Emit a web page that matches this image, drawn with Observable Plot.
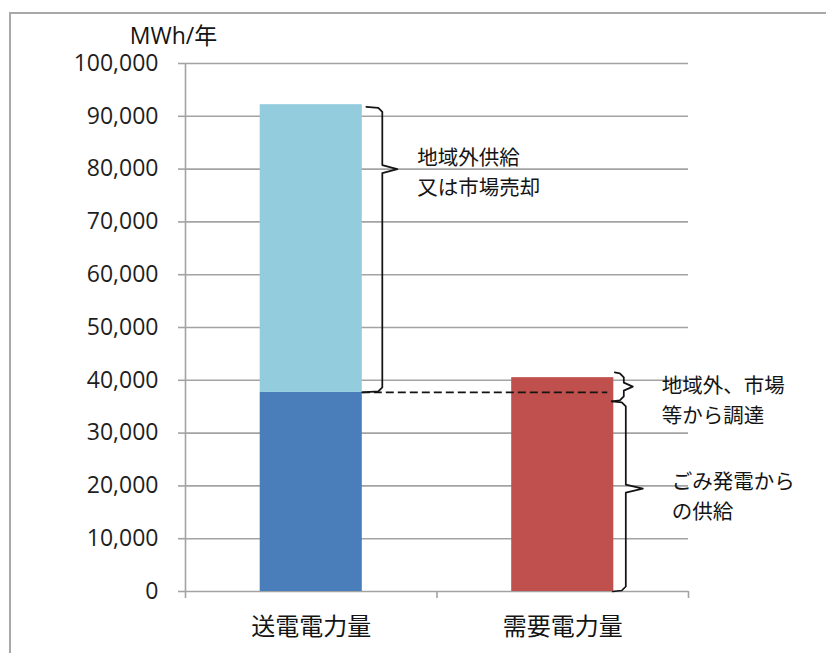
<!DOCTYPE html>
<html><head><meta charset="utf-8">
<script src="https://cdn.jsdelivr.net/npm/d3@7"></script>
<script src="https://cdn.jsdelivr.net/npm/@observablehq/plot@0.6"></script>
<style>
html,body{margin:0;padding:0;background:#fff;overflow:hidden;}
#wrap{position:relative;width:826px;height:653px;}
#border{position:absolute;left:9px;top:12px;width:900px;height:700px;border-top:2px solid #a8a8a8;border-left:2px solid #a8a8a8;}
#chart{position:absolute;left:0;top:0;}
g[aria-label="annot"] text{letter-spacing:1.6px;}
g[aria-label="xlabel"] text{letter-spacing:1.5px;}
g[aria-label="ylabel"] text{letter-spacing:1.5px;}
</style></head><body>
<div id="wrap"><div id="border"></div><div id="chart"></div></div>
<script>
// ---- data ----
const categories = ["送電電力量", "需要電力量"];
const barCategory = ["送電電力量", "送電電力量", "需要電力量"];
const barSegment = ["地域内供給", "地域外供給又は市場売却", "需要"];
const barValue = [37700, 54500, 40500];
const yTicks = [0, 10000, 20000, 30000, 40000, 50000, 60000, 70000, 80000, 90000, 100000];
const yLabel = "MWh/年";
const dashValue = 37700;
const braceBar = ["送電電力量", "需要電力量", "需要電力量"];
const braceTop = [91800, 41500, 36000];
const braceMid = [80000, 38800, 19500];
const braceBottom = [37700, 36000, 0];
const braceText = ["地域外供給\n又は市場売却", "地域外、市場\n等から調達", "ごみ発電から\nの供給"];
const braceTextValue = [79800, 36600, 18400];

// ---- layout / style ----
const W = 826, H = 653, mL = 185, mR = 138, mT = 63, mB = 62;
const yMax = 100000;
const pxPerX = (W - mL - mR) / categories.length;
const valPerPx = yMax / (H - mT - mB);
const barPad = 0.297;
const segColors = ["#4A7EBB", "#93CDDD", "#C0504D"];
const gridColor = "#a3a3a3";
const ink = "#141414";
const braceGeom = [
  {hookTop: 4, vert: 20, notch: 35, hookBot: 0, textDx: 20},
  {hookTop: 1, vert: 10, notch: 19, hookBot: -2, textDx: 29},
  {hookTop: -2, vert: 12, notch: 29, hookBot: -1, textDx: 29}
];

const ci = c => categories.indexOf(c);
const cum = {};
const rows = barValue.map((v, k) => {
  const c = barCategory[k];
  const y1 = cum[c] || 0;
  cum[c] = y1 + v;
  return {cat: c, seg: barSegment[k], i: ci(c), y1, y2: y1 + v};
});

const sx = px => px / pxPerX;
const sv = px => px * valPerPx;
const bracePts = [];
const braceLabels = [];
braceBar.forEach((c, b) => {
  const g = braceGeom[b];
  const edge = ci(c) + 1 - barPad;
  const t = braceTop[b], m = braceMid[b], bt = braceBottom[b];
  const pts = [
    [edge + sx(g.hookTop), t],
    [edge + sx(g.vert - 4), t - sv(1)],
    [edge + sx(g.vert), t - sv(5)],
    [edge + sx(g.vert), m + sv(4)],
    [edge + sx(g.notch), m],
    [edge + sx(g.vert), m - sv(4)],
    [edge + sx(g.vert), bt + sv(5)],
    [edge + sx(g.vert - 4), bt + sv(1)],
    [edge + sx(g.hookBot), bt]
  ];
  pts.forEach(([x, y]) => bracePts.push({b, x, y}));
  braceLabels.push({x: edge + sx(g.notch + g.textDx), y: braceTextValue[b], text: braceText[b]});
});

const chart = Plot.plot({
  width: W, height: H,
  marginLeft: mL, marginRight: mR, marginTop: mT, marginBottom: mB,
  x: {domain: [0, categories.length], axis: null},
  y: {domain: [0, yMax]},
  color: {domain: barSegment, range: segColors},
  style: {fontFamily: "'Open Sans','Noto Sans CJK JP',sans-serif", color: ink, background: "transparent", overflow: "visible"},
  marks: [
    Plot.gridY(yTicks, {stroke: gridColor, strokeOpacity: 1, strokeWidth: 1.6}),
    Plot.axisY(yTicks, {tickFormat: d3.format(","), tickSize: 7, tickPadding: 20, fontSize: 23, stroke: gridColor, strokeWidth: 1.6, fill: "#1e1e1e", label: null}),
    Plot.ruleX([0], {stroke: gridColor, strokeWidth: 1.6, insetBottom: -7}),
    Plot.ruleX(d3.range(1, categories.length + 1), {y1: 0, y2: 0, insetBottom: -7, stroke: gridColor, strokeWidth: 1.6}),
    Plot.rectY(rows, {x1: d => d.i + barPad, x2: d => d.i + 1 - barPad, y1: "y1", y2: "y2", fill: "seg"}),
    Plot.ruleY([dashValue], {x1: ci("送電電力量") + 1 - barPad, x2: ci("需要電力量") + 1 - barPad - sx(6), stroke: ink, strokeWidth: 1.75, strokeDasharray: "8,4"}),
    Plot.line(bracePts, {x: "x", y: "y", z: "b", stroke: ink, strokeWidth: 1.75, strokeLinejoin: "round"}),
    Plot.text(braceLabels, {x: "x", y: "y", text: "text", textAnchor: "start", lineAnchor: "middle", lineHeight: 1.45, fontSize: 20.5, fill: ink, fontFamily: "'Noto Sans CJK JP',sans-serif", ariaLabel: "annot"}),
    Plot.text(categories, {x: (d, i) => i + 0.5, frameAnchor: "bottom", lineAnchor: "middle", dy: 36, fontSize: 24, fill: ink, fontFamily: "'Noto Sans CJK JP',sans-serif", ariaLabel: "xlabel"}),
    Plot.text([yLabel], {frameAnchor: "top-left", lineAnchor: "middle", dx: -12, dy: -27, fontSize: 23, fill: ink, textAnchor: "middle", ariaLabel: "ylabel"})
  ]
});
document.getElementById("chart").appendChild(chart);
</script>
</body></html>
